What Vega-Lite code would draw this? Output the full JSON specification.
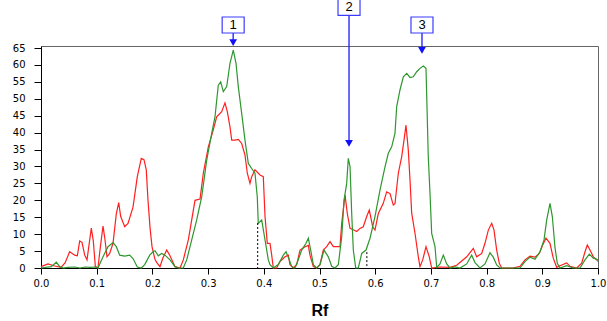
{
  "$schema": "https://vega.github.io/schema/vega-lite/v6.json",
  "width": 557,
  "height": 222,
  "autosize": {"type": "none"},
  "padding": {"left": 41, "top": 46, "right": 9, "bottom": 53},
  "background": "white",
  "config": {
    "view": {"stroke": "#666666", "strokeWidth": 1},
    "font": "DejaVu Sans",
    "axisY": {"labelFont": "DejaVu Sans", "labelFontSize": 10, "labelColor": "black", "labelPadding": 9, "tickSize": 7, "tickColor": "black", "domainColor": "black", "grid": false, "labelOverlap": false, "title": null},
    "axisX": {"labelFont": "DejaVu Sans", "labelFontSize": 10, "labelColor": "black", "labelPadding": 4, "tickSize": 6, "tickColor": "black", "domainColor": "black", "grid": false, "labelFlush": false, "labelOverlap": false}
  },
  "datasets": {
    "curves": [
      {"s": "red", "rf": 0.0, "v": 0.4}, {"s": "red", "rf": 0.0126, "v": 1.2}, {"s": "red", "rf": 0.0246, "v": 0.6}, {"s": "red", "rf": 0.0359, "v": 0.2}, {"s": "red", "rf": 0.0431, "v": 1.5}, {"s": "red", "rf": 0.0515, "v": 4.8}, {"s": "red", "rf": 0.0605, "v": 3.8}, {"s": "red", "rf": 0.0652, "v": 3.6}, {"s": "red", "rf": 0.0695, "v": 8.0}, {"s": "red", "rf": 0.0736, "v": 7.6}, {"s": "red", "rf": 0.0785, "v": 3.8}, {"s": "red", "rf": 0.0826, "v": 2.4}, {"s": "red", "rf": 0.0903, "v": 11.8}, {"s": "red", "rf": 0.0939, "v": 8.0}, {"s": "red", "rf": 0.0975, "v": 0.5}, {"s": "red", "rf": 0.1023, "v": 0.0}, {"s": "red", "rf": 0.1059, "v": 5.3}, {"s": "red", "rf": 0.1113, "v": 12.4}, {"s": "red", "rf": 0.1144, "v": 9.0}, {"s": "red", "rf": 0.1185, "v": 3.3}, {"s": "red", "rf": 0.1233, "v": 4.3}, {"s": "red", "rf": 0.1293, "v": 7.3}, {"s": "red", "rf": 0.1352, "v": 16.0}, {"s": "red", "rf": 0.1395, "v": 19.3}, {"s": "red", "rf": 0.1431, "v": 15.2}, {"s": "red", "rf": 0.1503, "v": 12.2}, {"s": "red", "rf": 0.1562, "v": 13.2}, {"s": "red", "rf": 0.1652, "v": 18.0}, {"s": "red", "rf": 0.1729, "v": 27.0}, {"s": "red", "rf": 0.1801, "v": 32.4}, {"s": "red", "rf": 0.1849, "v": 32.0}, {"s": "red", "rf": 0.189, "v": 29.0}, {"s": "red", "rf": 0.1921, "v": 20.0}, {"s": "red", "rf": 0.1957, "v": 12.0}, {"s": "red", "rf": 0.1993, "v": 6.3}, {"s": "red", "rf": 0.2047, "v": 2.5}, {"s": "red", "rf": 0.2083, "v": 1.5}, {"s": "red", "rf": 0.2136, "v": 0.4}, {"s": "red", "rf": 0.219, "v": 3.0}, {"s": "red", "rf": 0.2257, "v": 5.3}, {"s": "red", "rf": 0.2316, "v": 3.6}, {"s": "red", "rf": 0.2406, "v": 0.4}, {"s": "red", "rf": 0.2496, "v": 0.0}, {"s": "red", "rf": 0.2555, "v": 2.4}, {"s": "red", "rf": 0.2645, "v": 8.3}, {"s": "red", "rf": 0.2765, "v": 20.0}, {"s": "red", "rf": 0.2855, "v": 20.4}, {"s": "red", "rf": 0.2914, "v": 28.0}, {"s": "red", "rf": 0.3004, "v": 35.8}, {"s": "red", "rf": 0.3093, "v": 40.8}, {"s": "red", "rf": 0.3154, "v": 44.7}, {"s": "red", "rf": 0.3244, "v": 46.2}, {"s": "red", "rf": 0.3303, "v": 48.8}, {"s": "red", "rf": 0.3345, "v": 46.2}, {"s": "red", "rf": 0.3393, "v": 41.7}, {"s": "red", "rf": 0.3424, "v": 37.8}, {"s": "red", "rf": 0.3483, "v": 37.8}, {"s": "red", "rf": 0.3542, "v": 38.0}, {"s": "red", "rf": 0.3603, "v": 36.8}, {"s": "red", "rf": 0.3662, "v": 33.4}, {"s": "red", "rf": 0.3704, "v": 28.0}, {"s": "red", "rf": 0.3752, "v": 25.0}, {"s": "red", "rf": 0.3783, "v": 27.0}, {"s": "red", "rf": 0.3842, "v": 29.0}, {"s": "red", "rf": 0.3932, "v": 27.5}, {"s": "red", "rf": 0.3991, "v": 27.0}, {"s": "red", "rf": 0.4022, "v": 15.2}, {"s": "red", "rf": 0.4063, "v": 7.3}, {"s": "red", "rf": 0.4111, "v": 7.3}, {"s": "red", "rf": 0.4142, "v": 3.8}, {"s": "red", "rf": 0.4171, "v": 0.0}, {"s": "red", "rf": 0.4232, "v": 0.0}, {"s": "red", "rf": 0.4291, "v": 1.9}, {"s": "red", "rf": 0.4381, "v": 3.3}, {"s": "red", "rf": 0.444, "v": 3.8}, {"s": "red", "rf": 0.447, "v": 1.0}, {"s": "red", "rf": 0.453, "v": 0.0}, {"s": "red", "rf": 0.4591, "v": 1.0}, {"s": "red", "rf": 0.465, "v": 5.3}, {"s": "red", "rf": 0.474, "v": 6.3}, {"s": "red", "rf": 0.4799, "v": 6.7}, {"s": "red", "rf": 0.4829, "v": 3.8}, {"s": "red", "rf": 0.4889, "v": 0.4}, {"s": "red", "rf": 0.495, "v": 0.0}, {"s": "red", "rf": 0.5009, "v": 1.0}, {"s": "red", "rf": 0.5068, "v": 5.3}, {"s": "red", "rf": 0.5129, "v": 6.3}, {"s": "red", "rf": 0.5189, "v": 7.8}, {"s": "red", "rf": 0.5248, "v": 6.3}, {"s": "red", "rf": 0.5368, "v": 6.3}, {"s": "red", "rf": 0.5399, "v": 13.2}, {"s": "red", "rf": 0.5458, "v": 21.6}, {"s": "red", "rf": 0.5499, "v": 16.1}, {"s": "red", "rf": 0.5548, "v": 11.7}, {"s": "red", "rf": 0.5607, "v": 11.3}, {"s": "red", "rf": 0.5668, "v": 10.8}, {"s": "red", "rf": 0.5727, "v": 11.7}, {"s": "red", "rf": 0.5786, "v": 12.2}, {"s": "red", "rf": 0.5847, "v": 15.2}, {"s": "red", "rf": 0.5894, "v": 17.1}, {"s": "red", "rf": 0.5955, "v": 12.2}, {"s": "red", "rf": 0.5996, "v": 11.2}, {"s": "red", "rf": 0.6056, "v": 16.1}, {"s": "red", "rf": 0.6145, "v": 19.1}, {"s": "red", "rf": 0.6206, "v": 22.5}, {"s": "red", "rf": 0.6266, "v": 22.0}, {"s": "red", "rf": 0.6325, "v": 18.6}, {"s": "red", "rf": 0.6355, "v": 19.0}, {"s": "red", "rf": 0.6415, "v": 28.0}, {"s": "red", "rf": 0.6476, "v": 32.9}, {"s": "red", "rf": 0.6517, "v": 37.8}, {"s": "red", "rf": 0.6553, "v": 42.2}, {"s": "red", "rf": 0.6594, "v": 34.9}, {"s": "red", "rf": 0.6625, "v": 26.0}, {"s": "red", "rf": 0.6655, "v": 16.2}, {"s": "red", "rf": 0.6715, "v": 10.2}, {"s": "red", "rf": 0.6774, "v": 3.3}, {"s": "red", "rf": 0.6804, "v": 0.4}, {"s": "red", "rf": 0.6853, "v": 2.4}, {"s": "red", "rf": 0.6912, "v": 6.3}, {"s": "red", "rf": 0.6971, "v": 3.3}, {"s": "red", "rf": 0.7014, "v": 0.0}, {"s": "red", "rf": 0.7163, "v": 0.3}, {"s": "red", "rf": 0.7343, "v": 0.2}, {"s": "red", "rf": 0.7463, "v": 0.8}, {"s": "red", "rf": 0.7643, "v": 3.3}, {"s": "red", "rf": 0.7761, "v": 5.8}, {"s": "red", "rf": 0.7822, "v": 3.3}, {"s": "red", "rf": 0.7912, "v": 4.3}, {"s": "red", "rf": 0.7971, "v": 7.3}, {"s": "red", "rf": 0.8031, "v": 11.2}, {"s": "red", "rf": 0.8092, "v": 13.2}, {"s": "red", "rf": 0.8133, "v": 11.2}, {"s": "red", "rf": 0.8181, "v": 5.3}, {"s": "red", "rf": 0.8228, "v": 1.4}, {"s": "red", "rf": 0.8271, "v": 0.0}, {"s": "red", "rf": 0.8474, "v": 0.0}, {"s": "red", "rf": 0.86, "v": 0.5}, {"s": "red", "rf": 0.8689, "v": 2.4}, {"s": "red", "rf": 0.8779, "v": 3.5}, {"s": "red", "rf": 0.8869, "v": 3.2}, {"s": "red", "rf": 0.8946, "v": 4.3}, {"s": "red", "rf": 0.9007, "v": 6.8}, {"s": "red", "rf": 0.9066, "v": 8.8}, {"s": "red", "rf": 0.9138, "v": 7.3}, {"s": "red", "rf": 0.9197, "v": 2.9}, {"s": "red", "rf": 0.9258, "v": 0.2}, {"s": "red", "rf": 0.9348, "v": 0.9}, {"s": "red", "rf": 0.9438, "v": 1.5}, {"s": "red", "rf": 0.9497, "v": 0.5}, {"s": "red", "rf": 0.9618, "v": 0.0}, {"s": "red", "rf": 0.9707, "v": 1.4}, {"s": "red", "rf": 0.9767, "v": 4.8}, {"s": "red", "rf": 0.9808, "v": 6.8}, {"s": "red", "rf": 0.9856, "v": 5.3}, {"s": "red", "rf": 0.9916, "v": 3.3}, {"s": "red", "rf": 0.9977, "v": 2.4}, {"s": "red", "rf": 1.0, "v": 2.4},
      {"s": "green", "rf": 0.0, "v": 0.0}, {"s": "green", "rf": 0.0185, "v": 0.4}, {"s": "green", "rf": 0.0275, "v": 1.7}, {"s": "green", "rf": 0.0336, "v": 0.4}, {"s": "green", "rf": 0.0395, "v": 0.0}, {"s": "green", "rf": 0.0485, "v": 0.2}, {"s": "green", "rf": 0.061, "v": 0.3}, {"s": "green", "rf": 0.07, "v": 0.0}, {"s": "green", "rf": 0.079, "v": 0.3}, {"s": "green", "rf": 0.088, "v": 0.2}, {"s": "green", "rf": 0.0969, "v": 0.3}, {"s": "green", "rf": 0.1023, "v": 0.0}, {"s": "green", "rf": 0.1113, "v": 3.3}, {"s": "green", "rf": 0.1203, "v": 6.3}, {"s": "green", "rf": 0.1293, "v": 7.5}, {"s": "green", "rf": 0.1352, "v": 6.3}, {"s": "green", "rf": 0.1413, "v": 3.8}, {"s": "green", "rf": 0.1503, "v": 3.5}, {"s": "green", "rf": 0.1592, "v": 3.8}, {"s": "green", "rf": 0.1652, "v": 2.8}, {"s": "green", "rf": 0.1729, "v": 0.3}, {"s": "green", "rf": 0.1801, "v": 0.0}, {"s": "green", "rf": 0.1862, "v": 1.0}, {"s": "green", "rf": 0.1952, "v": 3.8}, {"s": "green", "rf": 0.2011, "v": 4.8}, {"s": "green", "rf": 0.2047, "v": 5.1}, {"s": "green", "rf": 0.2106, "v": 3.6}, {"s": "green", "rf": 0.2167, "v": 4.3}, {"s": "green", "rf": 0.2226, "v": 3.8}, {"s": "green", "rf": 0.2316, "v": 2.4}, {"s": "green", "rf": 0.2406, "v": 0.4}, {"s": "green", "rf": 0.2465, "v": 0.0}, {"s": "green", "rf": 0.2555, "v": 0.0}, {"s": "green", "rf": 0.2616, "v": 2.4}, {"s": "green", "rf": 0.2706, "v": 8.3}, {"s": "green", "rf": 0.2795, "v": 14.2}, {"s": "green", "rf": 0.2885, "v": 21.0}, {"s": "green", "rf": 0.2975, "v": 31.9}, {"s": "green", "rf": 0.3065, "v": 39.8}, {"s": "green", "rf": 0.3124, "v": 44.7}, {"s": "green", "rf": 0.3183, "v": 54.0}, {"s": "green", "rf": 0.3226, "v": 55.0}, {"s": "green", "rf": 0.3273, "v": 52.1}, {"s": "green", "rf": 0.3334, "v": 53.6}, {"s": "green", "rf": 0.3393, "v": 60.5}, {"s": "green", "rf": 0.3452, "v": 64.4}, {"s": "green", "rf": 0.3501, "v": 60.5}, {"s": "green", "rf": 0.3542, "v": 53.6}, {"s": "green", "rf": 0.3603, "v": 45.7}, {"s": "green", "rf": 0.3662, "v": 37.8}, {"s": "green", "rf": 0.3722, "v": 30.9}, {"s": "green", "rf": 0.3783, "v": 29.4}, {"s": "green", "rf": 0.3842, "v": 28.0}, {"s": "green", "rf": 0.3883, "v": 21.0}, {"s": "green", "rf": 0.3901, "v": 13.2}, {"s": "green", "rf": 0.3962, "v": 14.2}, {"s": "green", "rf": 0.4022, "v": 8.3}, {"s": "green", "rf": 0.4081, "v": 2.4}, {"s": "green", "rf": 0.4111, "v": 1.0}, {"s": "green", "rf": 0.4171, "v": 0.0}, {"s": "green", "rf": 0.426, "v": 1.0}, {"s": "green", "rf": 0.435, "v": 3.8}, {"s": "green", "rf": 0.4399, "v": 4.8}, {"s": "green", "rf": 0.4458, "v": 2.4}, {"s": "green", "rf": 0.4501, "v": 0.4}, {"s": "green", "rf": 0.456, "v": 0.0}, {"s": "green", "rf": 0.4619, "v": 2.4}, {"s": "green", "rf": 0.468, "v": 5.3}, {"s": "green", "rf": 0.4758, "v": 7.3}, {"s": "green", "rf": 0.4799, "v": 8.8}, {"s": "green", "rf": 0.4842, "v": 5.3}, {"s": "green", "rf": 0.4889, "v": 1.0}, {"s": "green", "rf": 0.495, "v": 0.0}, {"s": "green", "rf": 0.5009, "v": 1.0}, {"s": "green", "rf": 0.5081, "v": 5.3}, {"s": "green", "rf": 0.5158, "v": 3.3}, {"s": "green", "rf": 0.5219, "v": 0.5}, {"s": "green", "rf": 0.5278, "v": 0.0}, {"s": "green", "rf": 0.5338, "v": 1.0}, {"s": "green", "rf": 0.5399, "v": 9.2}, {"s": "green", "rf": 0.544, "v": 20.0}, {"s": "green", "rf": 0.5488, "v": 25.0}, {"s": "green", "rf": 0.5517, "v": 32.4}, {"s": "green", "rf": 0.5548, "v": 30.0}, {"s": "green", "rf": 0.5578, "v": 16.2}, {"s": "green", "rf": 0.5607, "v": 5.3}, {"s": "green", "rf": 0.565, "v": 0.0}, {"s": "green", "rf": 0.5697, "v": 0.0}, {"s": "green", "rf": 0.5758, "v": 4.3}, {"s": "green", "rf": 0.5835, "v": 5.3}, {"s": "green", "rf": 0.5907, "v": 8.8}, {"s": "green", "rf": 0.5996, "v": 15.2}, {"s": "green", "rf": 0.6086, "v": 23.0}, {"s": "green", "rf": 0.6176, "v": 29.9}, {"s": "green", "rf": 0.6235, "v": 33.9}, {"s": "green", "rf": 0.6296, "v": 35.8}, {"s": "green", "rf": 0.6355, "v": 39.8}, {"s": "green", "rf": 0.6386, "v": 47.7}, {"s": "green", "rf": 0.6445, "v": 52.6}, {"s": "green", "rf": 0.6505, "v": 56.5}, {"s": "green", "rf": 0.6566, "v": 57.5}, {"s": "green", "rf": 0.6625, "v": 56.3}, {"s": "green", "rf": 0.6684, "v": 56.5}, {"s": "green", "rf": 0.6745, "v": 58.0}, {"s": "green", "rf": 0.6804, "v": 59.0}, {"s": "green", "rf": 0.6864, "v": 59.7}, {"s": "green", "rf": 0.6912, "v": 59.0}, {"s": "green", "rf": 0.6953, "v": 32.9}, {"s": "green", "rf": 0.6984, "v": 22.0}, {"s": "green", "rf": 0.7014, "v": 10.2}, {"s": "green", "rf": 0.7074, "v": 6.3}, {"s": "green", "rf": 0.7104, "v": 0.2}, {"s": "green", "rf": 0.7163, "v": 1.2}, {"s": "green", "rf": 0.7223, "v": 3.8}, {"s": "green", "rf": 0.7284, "v": 1.2}, {"s": "green", "rf": 0.7343, "v": 0.0}, {"s": "green", "rf": 0.7433, "v": 0.3}, {"s": "green", "rf": 0.7522, "v": 0.0}, {"s": "green", "rf": 0.7643, "v": 1.2}, {"s": "green", "rf": 0.7732, "v": 3.8}, {"s": "green", "rf": 0.7792, "v": 1.6}, {"s": "green", "rf": 0.7881, "v": 0.0}, {"s": "green", "rf": 0.7971, "v": 1.2}, {"s": "green", "rf": 0.8061, "v": 4.5}, {"s": "green", "rf": 0.812, "v": 3.2}, {"s": "green", "rf": 0.8181, "v": 0.9}, {"s": "green", "rf": 0.8241, "v": 0.0}, {"s": "green", "rf": 0.86, "v": 0.0}, {"s": "green", "rf": 0.8689, "v": 1.9}, {"s": "green", "rf": 0.8779, "v": 3.2}, {"s": "green", "rf": 0.8869, "v": 2.6}, {"s": "green", "rf": 0.8959, "v": 4.8}, {"s": "green", "rf": 0.9031, "v": 8.3}, {"s": "green", "rf": 0.9079, "v": 14.2}, {"s": "green", "rf": 0.9138, "v": 19.1}, {"s": "green", "rf": 0.918, "v": 15.2}, {"s": "green", "rf": 0.9228, "v": 6.0}, {"s": "green", "rf": 0.9269, "v": 1.4}, {"s": "green", "rf": 0.9318, "v": 0.0}, {"s": "green", "rf": 0.9438, "v": 0.7}, {"s": "green", "rf": 0.9551, "v": 0.0}, {"s": "green", "rf": 0.9677, "v": 0.0}, {"s": "green", "rf": 0.9767, "v": 2.4}, {"s": "green", "rf": 0.9844, "v": 4.1}, {"s": "green", "rf": 0.9916, "v": 2.9}, {"s": "green", "rf": 0.9977, "v": 2.6}, {"s": "green", "rf": 1.0, "v": 1.9}
    ],
    "markers": [
      {"rf": 0.389, "top": 13.3, "base": 0},
      {"rf": 0.585, "top": 4.7, "base": 0}
    ],
    "peaks": [
      {"n": "1", "rf": 0.345, "box": 71.8, "arrow": 66.6},
      {"n": "2", "rf": 0.553, "box": 77.0, "arrow": 36.8},
      {"n": "3", "rf": 0.684, "box": 71.8, "arrow": 64.3}
    ]
  },
  "encoding": {
    "x": {
      "field": "rf", "type": "quantitative",
      "scale": {"domain": [0, 1], "nice": false},
      "axis": {
        "title": "Rf", "titleFont": "Liberation Sans", "titleFontSize": 16, "titleFontWeight": "bold",
        "titleColor": "black", "titlePadding": 14,
        "values": [0, 0.1, 0.2, 0.3, 0.4, 0.5, 0.6, 0.7, 0.8, 0.9, 1.0],
        "format": ".1f"
      }
    }
  },
  "layer": [
    {
      "data": {"name": "curves"},
      "mark": {"type": "line", "strokeWidth": 1.2, "interpolate": "linear"},
      "encoding": {
        "y": {
          "field": "v", "type": "quantitative",
          "scale": {"domain": [0, 65.6], "nice": false},
          "axis": {"values": [0, 5, 10, 15, 20, 25, 30, 35, 40, 45, 50, 55, 60, 65]}
        },
        "color": {
          "field": "s", "type": "nominal",
          "scale": {"domain": ["red", "green"], "range": ["#ff1f1f", "#2e962e"]},
          "legend": null
        },
        "order": {"field": "rf", "type": "quantitative"}
      }
    },
    {
      "data": {"name": "markers"},
      "mark": {"type": "rule", "color": "black", "strokeDash": [2, 2], "strokeWidth": 1},
      "encoding": {
        "y": {"field": "top", "type": "quantitative", "axis": {"values": [0, 5, 10, 15, 20, 25, 30, 35, 40, 45, 50, 55, 60, 65]}},
        "y2": {"field": "base"}
      }
    },
    {
      "data": {"name": "peaks"},
      "mark": {"type": "rule", "color": "#1a1aff", "strokeWidth": 1.3},
      "encoding": {
        "y": {"field": "box", "type": "quantitative", "axis": {"values": [0, 5, 10, 15, 20, 25, 30, 35, 40, 45, 50, 55, 60, 65]}},
        "y2": {"field": "arrow"}
      }
    },
    {
      "data": {"name": "peaks"},
      "mark": {"type": "point", "shape": "triangle-down", "filled": true, "size": 60, "color": "#1010ff", "opacity": 1},
      "encoding": {
        "y": {"field": "arrow", "type": "quantitative", "axis": {"values": [0, 5, 10, 15, 20, 25, 30, 35, 40, 45, 50, 55, 60, 65]}}
      }
    },
    {
      "data": {"name": "peaks"},
      "mark": {"type": "point", "shape": "M-1,-0.727L1,-0.727L1,0.727L-1,0.727Z", "size": 484, "filled": false, "fill": "white", "fillOpacity": 1, "stroke": "#3c3cff", "strokeWidth": 1.2, "opacity": 1},
      "encoding": {
        "y": {"field": "box", "type": "quantitative", "axis": {"values": [0, 5, 10, 15, 20, 25, 30, 35, 40, 45, 50, 55, 60, 65]}}
      }
    },
    {
      "data": {"name": "peaks"},
      "mark": {"type": "text", "font": "Liberation Sans", "fontSize": 13, "color": "black", "baseline": "middle", "align": "center"},
      "encoding": {
        "y": {"field": "box", "type": "quantitative", "axis": {"values": [0, 5, 10, 15, 20, 25, 30, 35, 40, 45, 50, 55, 60, 65]}},
        "text": {"field": "n"}
      }
    }
  ]
}
